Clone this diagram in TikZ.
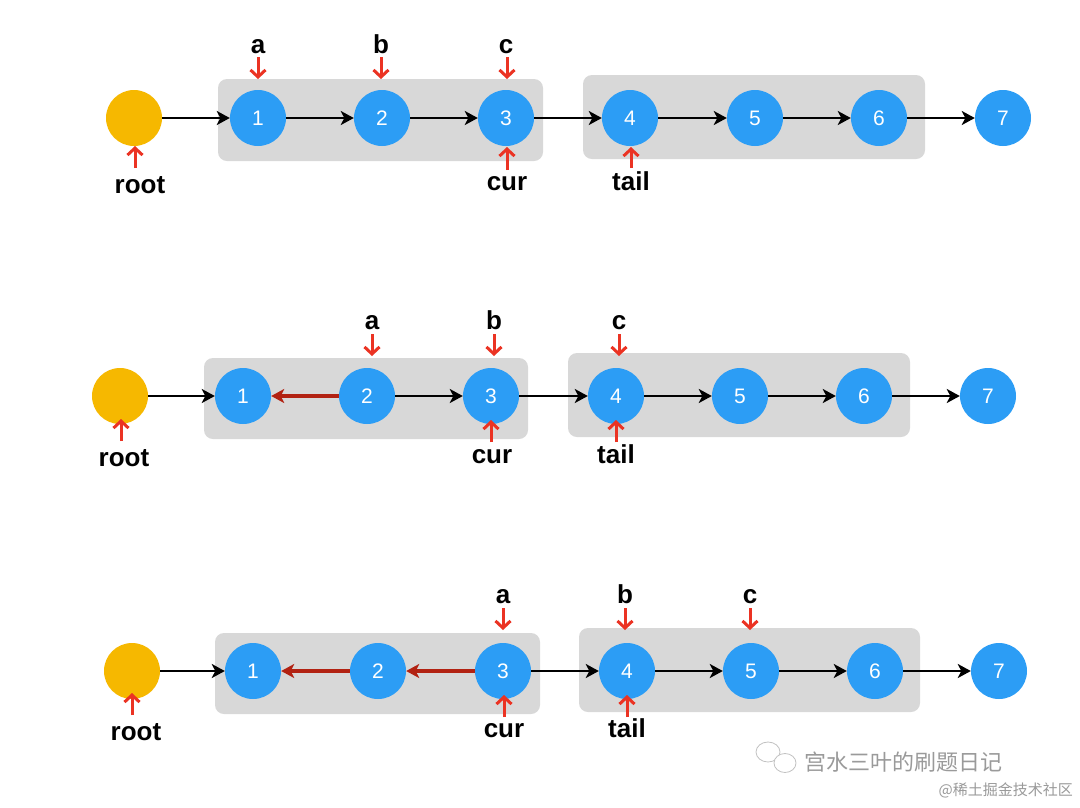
\documentclass[tikz,border=0pt]{standalone}
\usepackage{fontspec}
\setmainfont{Liberation Sans}
\newfontfamily\cjk{Noto Sans CJK SC}
\usetikzlibrary{arrows.meta}
\definecolor{nodeblue}{HTML}{2C9DF5}
\definecolor{rootgold}{HTML}{F6B800}
\definecolor{boxgray}{HTML}{D8D8D8}
\definecolor{ptrred}{HTML}{EB3323}
\definecolor{revred}{HTML}{B22212}
\definecolor{wmgray}{HTML}{9A9A9A}
\begin{document}
\begin{tikzpicture}[x=1pt,y=-1pt,
  lnode/.style={circle,fill=nodeblue,minimum size=56pt,inner sep=0pt,text=white,font=\fontsize{21}{21}\selectfont},
  rootnode/.style={circle,fill=rootgold,minimum size=56pt,inner sep=0pt},
  link/.style={line width=2.8pt,-{Stealth[length=13pt,width=14pt,inset=3.5pt]}},
  revlink/.style={draw=revred,line width=3.2pt,-{Stealth[length=13pt,width=14pt,inset=3.5pt,fill=revred]}},
  ptr/.style={draw=ptrred,line width=3pt,-{Straight Barb[length=7pt,width=15pt]}},
  lbl/.style={font=\bfseries\fontsize{26}{26}\selectfont,inner sep=0pt,anchor=base},
  grp/.style={fill=boxgray,rounded corners=9pt}
]
\useasboundingbox (0,0) rectangle (1080,807);
\fill[white] (0,0) rectangle (1080,807);

% ===== Row 1 =====
\fill[grp] (218,79) rectangle (543,161);
\fill[grp] (583,75) rectangle (925,159);
\node[rootnode] (r1) at (134,118) {};
\node[lnode] (a1) at (258,118) {1};
\node[lnode] (a2) at (382,118) {2};
\node[lnode] (a3) at (506,118) {3};
\node[lnode] (a4) at (630,118) {4};
\node[lnode] (a5) at (755,118) {5};
\node[lnode] (a6) at (879,118) {6};
\node[lnode] (a7) at (1003,118) {7};
\draw[link] (r1) -- (a1);
\draw[link] (a1) -- (a2);
\draw[link] (a2) -- (a3);
\draw[link] (a3) -- (a4);
\draw[link] (a4) -- (a5);
\draw[link] (a5) -- (a6);
\draw[link] (a6) -- (a7);
\node[lbl] (la1) at (258,53) {a};
\node[lbl] (lb1) at (381,53) {b};
\node[lbl] (lc1) at (506,53) {c};
\draw[ptr] (258,57) -- (258,79);
\draw[ptr] (381,57) -- (381,79);
\draw[ptr] (507,57) -- (507,79);
\node[lbl] (lr1) at (140,193) {root};
\node[lbl] (lcur1) at (507,190) {cur};
\node[lbl] (lt1) at (631,190) {tail};
\draw[ptr] (135,168) -- (135,146);
\draw[ptr] (507,170) -- (507,147);
\draw[ptr] (631,168) -- (631,147);

% ===== Row 2 =====
\fill[grp] (204,358) rectangle (528,439);
\fill[grp] (568,353) rectangle (910,437);
\node[rootnode] (r2) at (120,396) {};
\node[lnode] (b1) at (243,396) {1};
\node[lnode] (b2) at (367,396) {2};
\node[lnode] (b3) at (491,396) {3};
\node[lnode] (b4) at (616,396) {4};
\node[lnode] (b5) at (740,396) {5};
\node[lnode] (b6) at (864,396) {6};
\node[lnode] (b7) at (988,396) {7};
\draw[link] (r2) -- (b1);
\draw[revlink] (b2) -- (b1);
\draw[link] (b2) -- (b3);
\draw[link] (b3) -- (b4);
\draw[link] (b4) -- (b5);
\draw[link] (b5) -- (b6);
\draw[link] (b6) -- (b7);
\node[lbl] (la2) at (372,329) {a};
\node[lbl] (lb2) at (494,329) {b};
\node[lbl] (lc2) at (619,329) {c};
\draw[ptr] (372,334) -- (372,356);
\draw[ptr] (494,334) -- (494,356);
\draw[ptr] (619,334) -- (619,356);
\node[lbl] (lr2) at (124,466) {root};
\node[lbl] (lcur2) at (492,463) {cur};
\node[lbl] (lt2) at (616,463) {tail};
\draw[ptr] (121,441) -- (121,419);
\draw[ptr] (491,442) -- (491,420);
\draw[ptr] (616,442) -- (616,420);

% ===== Row 3 =====
\fill[grp] (215,633) rectangle (540,714);
\fill[grp] (579,628) rectangle (920,712);
\node[rootnode] (r3) at (132,671) {};
\node[lnode] (c1) at (253,671) {1};
\node[lnode] (c2) at (378,671) {2};
\node[lnode] (c3) at (503,671) {3};
\node[lnode] (c4) at (627,671) {4};
\node[lnode] (c5) at (751,671) {5};
\node[lnode] (c6) at (875,671) {6};
\node[lnode] (c7) at (999,671) {7};
\draw[link] (r3) -- (c1);
\draw[revlink] (c2) -- (c1);
\draw[revlink] (c3) -- (c2);
\draw[link] (c3) -- (c4);
\draw[link] (c4) -- (c5);
\draw[link] (c5) -- (c6);
\draw[link] (c6) -- (c7);
\node[lbl] (la3) at (503,603) {a};
\node[lbl] (lb3) at (625,603) {b};
\node[lbl] (lc3) at (750,603) {c};
\draw[ptr] (503,608) -- (503,630);
\draw[ptr] (625,608) -- (625,630);
\draw[ptr] (750,608) -- (750,630);
\node[lbl] (lr3) at (136,740) {root};
\node[lbl] (lcur3) at (504,737) {cur};
\node[lbl] (lt3) at (627,737) {tail};
\draw[ptr] (132,715) -- (132,693);
\draw[ptr] (504,717) -- (504,695);
\draw[ptr] (627,717) -- (627,695);

% ===== watermark =====
\draw[wmgray!60,line width=0.8pt] (768,752) ellipse (12 and 10);
\fill[white] (785,763) ellipse (11 and 9.5);
\draw[wmgray!60,line width=0.8pt] (785,763) ellipse (11 and 9.5);
\node[font=\cjk\fontsize{22}{22}\selectfont,text=wmgray,anchor=west,inner sep=0pt] (wm1) at (804,762) {宫水三叶的刷题日记};
\node[font=\cjk\fontsize{15}{15}\selectfont,text=wmgray,anchor=east,inner sep=0pt] (wm2) at (1073,790) {@稀土掘金技术社区};
\end{tikzpicture}
\end{document}
